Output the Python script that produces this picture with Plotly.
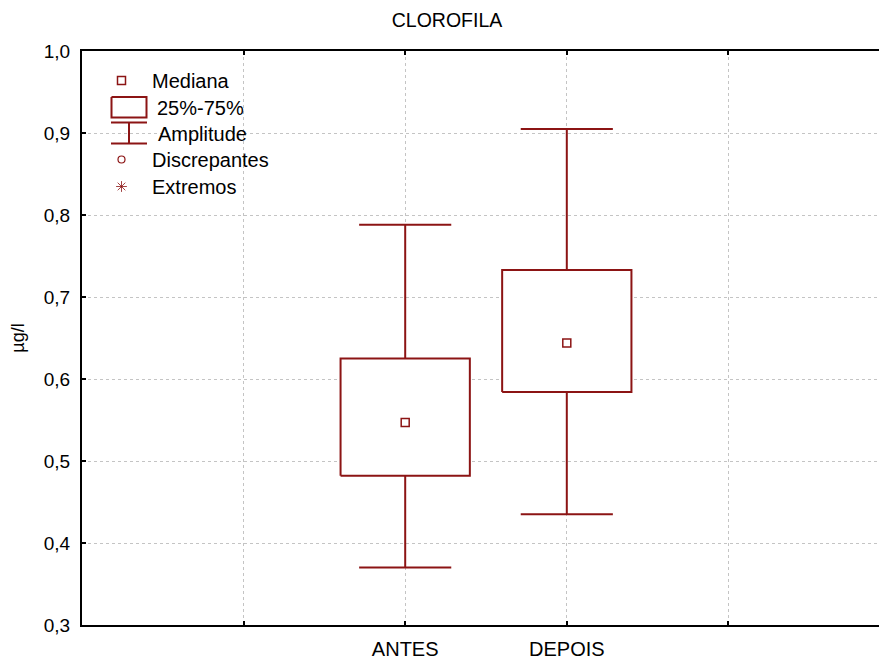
import plotly.graph_objects as go

# Summary statistics per group
categories = ["ANTES", "DEPOIS"]
minimum = [0.370, 0.435]
q1 = [0.482, 0.584]
median = [0.547, 0.644]
q3 = [0.625, 0.733]
maximum = [0.788, 0.905]

y_ticks = [0.3, 0.4, 0.5, 0.6, 0.7, 0.8, 0.9, 1.0]

legend_labels = ["Mediana", "25%-75%", "Amplitude", "Discrepantes", "Extremos"]

RED = "#8c1414"
FONT = "Liberation Sans, Arial, sans-serif"
W, H = 879, 659
ML, MR, MT, MB = 82, 0, 51, 34

positions = [i + 2 for i in range(len(categories))]
BOX_HALF = 0.4
CAP_HALF = 0.285

fig = go.Figure()

for p, lo, a, m, b, hi in zip(positions, minimum, q1, median, q3, maximum):
    # whiskers
    fig.add_trace(go.Scatter(
        x=[p, p, None, p, p, None, p - CAP_HALF, p + CAP_HALF, None, p - CAP_HALF, p + CAP_HALF],
        y=[b, hi, None, a, lo, None, hi, hi, None, lo, lo],
        mode="lines", line=dict(color=RED, width=2), hoverinfo="skip", showlegend=False))
    # box
    fig.add_trace(go.Scatter(
        x=[p - BOX_HALF, p + BOX_HALF, p + BOX_HALF, p - BOX_HALF, p - BOX_HALF],
        y=[a, a, b, b, a], mode="lines", fill="toself", fillcolor="white",
        line=dict(color=RED, width=2), hoverinfo="skip", showlegend=False))
    # median
    fig.add_trace(go.Scatter(
        x=[p], y=[m], mode="markers",
        marker=dict(symbol="square-open", size=8, color=RED, line=dict(width=1.5)),
        hoverinfo="skip", showlegend=False))

# Legend drawn on a pixel-based overlay axis pair
lx = 121.5
fig.add_trace(go.Scatter(x=[lx], y=[80.5], mode="markers", xaxis="x2", yaxis="y2",
                         marker=dict(symbol="square-open", size=8, color=RED, line=dict(width=1.5)),
                         hoverinfo="skip", showlegend=False))
fig.add_trace(go.Scatter(x=[111.5, 146.5, 146.5, 111.5, 111.5], y=[97, 97, 117.5, 117.5, 97],
                         mode="lines", xaxis="x2", yaxis="y2", line=dict(color=RED, width=2),
                         hoverinfo="skip", showlegend=False))
fig.add_trace(go.Scatter(x=[111, 147, None, 111, 147, None, 129, 129],
                         y=[122.5, 122.5, None, 143.5, 143.5, None, 122.5, 143.5],
                         mode="lines", xaxis="x2", yaxis="y2", line=dict(color=RED, width=2),
                         hoverinfo="skip", showlegend=False))
fig.add_trace(go.Scatter(x=[lx], y=[159.5], mode="markers", xaxis="x2", yaxis="y2",
                         marker=dict(symbol="circle-open", size=7, color=RED, line=dict(width=1.2)),
                         hoverinfo="skip", showlegend=False))
fig.add_trace(go.Scatter(x=[lx], y=[186.5], mode="markers", xaxis="x2", yaxis="y2",
                         marker=dict(symbol="asterisk-open", size=9, color=RED, line=dict(width=0.8, color=RED)),
                         hoverinfo="skip", showlegend=False))

label_pos = [(151, 80.5), (156, 108), (157, 134), (151, 160), (151, 187)]
annotations = []
for text, (tx, ty) in zip(legend_labels, label_pos):
    annotations.append(dict(x=tx, y=ty, xref="x2", yref="y2", text=text, showarrow=False,
                            xanchor="left", yanchor="middle", xshift=-1,
                            font=dict(family=FONT, size=20, color="black")))

plot_w = W - ML - MR
x_unit = 161.6
x_max = plot_w / x_unit

fig.update_layout(
    width=W, height=H,
    margin=dict(l=ML, r=MR, t=MT, b=MB),
    paper_bgcolor="white", plot_bgcolor="white",
    separators=",.",
    font=dict(family=FONT, size=19, color="black"),
    title=dict(text="CLOROFILA", x=447 / W, xanchor="center", y=1 - 20 / H, yanchor="middle",
               font=dict(family=FONT, size=19.5, color="black")),
    annotations=annotations,
    xaxis=dict(range=[0, x_max], tickvals=[1, 2, 3, 4], ticktext=["", categories[0], categories[1], ""],
               showgrid=True, gridcolor="#c4c4c4", griddash="dot", gridwidth=1,
               showline=True, linecolor="black", linewidth=2, mirror="ticks",
               ticks="inside", ticklen=4, tickwidth=2, tickcolor="black",
               ticklabelstandoff=5,
               tickfont=dict(family=FONT, size=20), zeroline=False, fixedrange=True),
    yaxis=dict(range=[0.3, 1.0], tickvals=y_ticks, tickformat=".1f",
               showgrid=True, gridcolor="#c4c4c4", griddash="dot", gridwidth=1,
               showline=True, linecolor="black", linewidth=2, mirror=False,
               ticks="inside", ticklen=4, tickwidth=2, tickcolor="black",
               ticklabelstandoff=6,
               tickfont=dict(family=FONT, size=19), zeroline=False,
               title=dict(text="µg/l", font=dict(family=FONT, size=18), standoff=14)),
    xaxis2=dict(overlaying="x", range=[ML, W - MR], visible=False, fixedrange=True),
    yaxis2=dict(overlaying="y", range=[H - MB, MT], visible=False, fixedrange=True),
)

fig.write_html("out.html")
